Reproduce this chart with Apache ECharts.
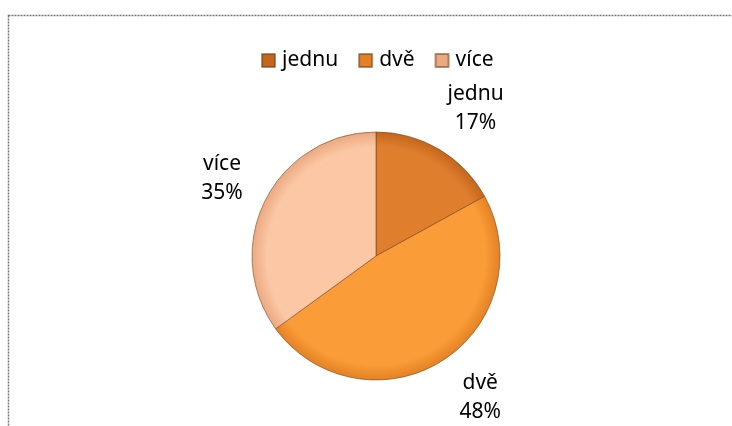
<!DOCTYPE html>
<html>
<head>
<meta charset="utf-8">
<script src="https://cdn.jsdelivr.net/npm/echarts@6/dist/echarts.min.js"></script>
<style>
  html, body { margin: 0; padding: 0; background: #fff; }
  #chart { width: 732px; height: 426px; }
</style>
</head>
<body>
<div id="chart"></div>
<script>
// data
const categories = ["jednu", "dvě", "více"];
const shares = [17, 48, 35];
const colors = [
  ["#df7f2e", "#c4661c"],
  ["#fa9c37", "#e38224"],
  ["#fbc7a4", "#eba981"]
];

const cx = 376, cy = 256, r = 124;

const myChart = echarts.init(document.getElementById("chart"));

function sliceColor(c) {
  return {
    type: "radial", x: cx, y: cy, r: r, global: true,
    colorStops: [
      { offset: 0, color: c[0] },
      { offset: 0.88, color: c[0] },
      { offset: 1, color: c[1] }
    ]
  };
}

myChart.setOption({
  animation: false,
  textStyle: { fontFamily: "Noto Sans", color: "#000" },
  legend: {
    top: 45,
    left: 256,
    itemWidth: 13,
    itemHeight: 13,
    itemGap: 20,
    icon: "rect",
    textStyle: { fontSize: 21, color: "#000", padding: [0, 0, 0, 2] },
    data: categories
  },
  graphic: [
    {
      type: "rect",
      shape: { x: 8.5, y: 15.5, width: 800, height: 500 },
      style: { fill: "none", stroke: "#777", lineWidth: 1.5, lineDash: [2, 1] },
      silent: true
    }
  ],
  series: [
    {
      type: "pie",
      center: [cx, cy],
      radius: r,
      startAngle: 90,
      clockwise: true,
      label: {
        show: true,
        position: "outside",
        formatter: "{b}\n{d}%",
        fontSize: 21,
        lineHeight: 29,
        color: "#000"
      },
      labelLine: { show: false, length: 50, length2: 0 },
      labelLayout: { align: "center", verticalAlign: "middle", dx: 6, dy: 2 },
      itemStyle: { borderColor: "rgba(110,60,20,0.55)", borderWidth: 1 },
      data: categories.map((name, i) => ({
        name: name,
        value: shares[i],
        itemStyle: { color: sliceColor(colors[i]) }
      }))
    }
  ]
});
</script>
</body>
</html>
